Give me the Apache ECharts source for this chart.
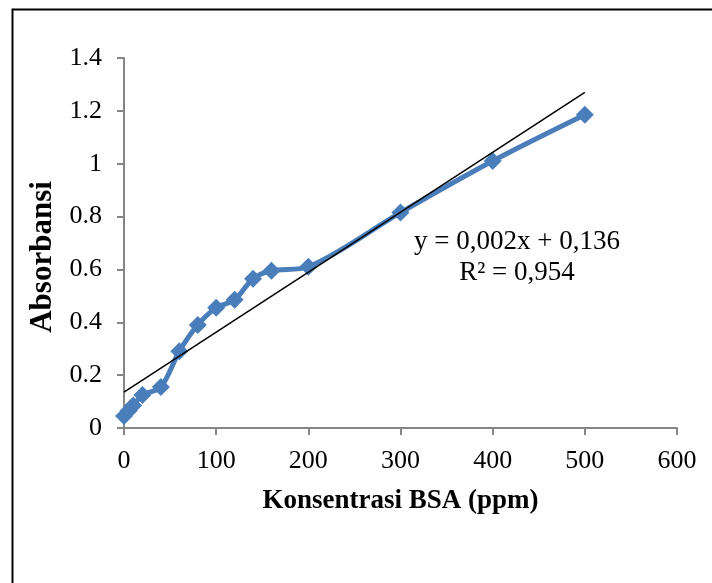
<!DOCTYPE html>
<html>
<head>
<meta charset="utf-8">
<script src="https://cdn.jsdelivr.net/npm/echarts@6/dist/echarts.min.js"></script>
<style>
  html, body { margin: 0; padding: 0; background: #fff; }
  #chart { width: 712px; height: 583px; }
</style>
</head>
<body>
<div id="chart"></div>
<script>
const konsentrasi = [0, 5, 10, 20, 40, 60, 80, 100, 120, 140, 160, 200, 300, 400, 500]
const absorbansi = [0.045, 0.065, 0.085, 0.125, 0.155, 0.29, 0.39, 0.455, 0.485, 0.565, 0.595, 0.61, 0.815, 1.01, 1.185]
const trendX = [0, 500]
const trendY = [0.136, 1.27]
const equation = ['y = 0,002x + 0,136', 'R² = 0,954']

const font = '"Liberation Serif", "Times New Roman", serif'
const axisColor = '#868686'

const chart = echarts.init(document.getElementById('chart'))

chart.setOption({
  animation: false,
  grid: { left: 124, right: 35, top: 58, bottom: 155 },
  xAxis: {
    type: 'value',
    min: 0, max: 600, interval: 100,
    name: 'Konsentrasi BSA (ppm)',
    nameLocation: 'middle',
    nameGap: 60,
    nameTextStyle: { fontFamily: font, fontSize: 27, fontWeight: 'bold', color: '#000' },
    axisLine: { show: true, lineStyle: { color: axisColor, width: 2 } },
    axisTick: { show: true, length: 7, lineStyle: { color: axisColor, width: 2 } },
    axisLabel: { fontFamily: font, fontSize: 26, color: '#000', margin: 20 },
    splitLine: { show: false }
  },
  yAxis: {
    type: 'value',
    min: 0, max: 1.4, interval: 0.2,
    name: 'Absorbansi',
    nameLocation: 'middle',
    nameGap: 64,
    nameTextStyle: { fontFamily: font, fontSize: 31, fontWeight: 'bold', color: '#000', padding: [0, 28, 0, 0] },
    axisLine: { show: true, lineStyle: { color: axisColor, width: 2 } },
    axisTick: { show: true, length: 7, lineStyle: { color: axisColor, width: 2 } },
    axisLabel: {
      fontFamily: font, fontSize: 26, color: '#000', margin: 22,
      formatter: v => String(+v.toFixed(1))
    },
    splitLine: { show: false }
  },
  graphic: [
    {
      type: 'rect', left: 10, top: 7, silent: true,
      shape: { width: 720, height: 600 },
      style: { fill: 'none', stroke: '#000', lineWidth: 2 }
    },
    {
      type: 'text', x: 517, y: 242, silent: true,
      style: { text: equation[0], font: '27px ' + font, fill: '#000', textAlign: 'center', textVerticalAlign: 'middle' }
    },
    {
      type: 'text', x: 517, y: 273, silent: true,
      style: { text: equation[1], font: '27px ' + font, fill: '#000', textAlign: 'center', textVerticalAlign: 'middle' }
    }
  ],
  series: [
    {
      type: 'line',
      data: konsentrasi.map((x, i) => [x, absorbansi[i]]),
      smooth: 0.3,
      symbol: 'diamond',
      symbolSize: 18,
      lineStyle: { color: '#4a7ebb', width: 5 },
      itemStyle: { color: '#4a7ebb' },
      z: 2
    },
    {
      type: 'line',
      data: trendX.map((x, i) => [x, trendY[i]]),
      symbol: 'none',
      lineStyle: { color: '#000', width: 1.5 },
      z: 3
    }
  ]
})
</script>
</body>
</html>
